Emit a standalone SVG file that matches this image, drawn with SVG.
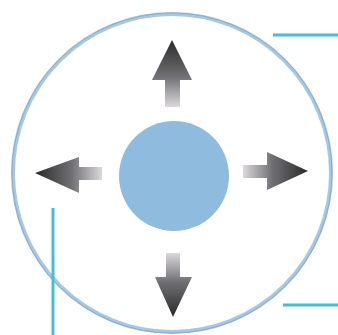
<svg xmlns="http://www.w3.org/2000/svg" width="338" height="335" viewBox="0 0 338 335">
<style>
.lead{stroke:#3fc0d8;stroke-width:3;fill:none}
.arrow{stroke:none}
</style>
<defs>
<linearGradient id="gUp" x1="0" y1="1" x2="0" y2="0">
<stop offset="0" stop-color="#dcd8dc"/><stop offset="0.45" stop-color="#707074"/><stop offset="1" stop-color="#2a2a2a"/>
</linearGradient>
<linearGradient id="gDown" x1="0" y1="0" x2="0" y2="1">
<stop offset="0" stop-color="#dcd8dc"/><stop offset="0.45" stop-color="#707074"/><stop offset="1" stop-color="#2a2a2a"/>
</linearGradient>
<linearGradient id="gLeft" x1="1" y1="0" x2="0" y2="0">
<stop offset="0" stop-color="#dcd8dc"/><stop offset="0.45" stop-color="#707074"/><stop offset="1" stop-color="#2a2a2a"/>
</linearGradient>
<linearGradient id="gRight" x1="0" y1="0" x2="1" y2="0">
<stop offset="0" stop-color="#dcd8dc"/><stop offset="0.45" stop-color="#707074"/><stop offset="1" stop-color="#2a2a2a"/>
</linearGradient>
</defs>
<rect width="338" height="335" fill="#fff"/>
<g id="outer">
<circle cx="172" cy="173" r="159" fill="#fff" stroke="#a8c8e2" stroke-width="4"/>
<circle cx="172" cy="173" r="160" fill="none" stroke="#86aed0" stroke-width="1"/>
</g>
<g id="center">
<circle cx="174" cy="176" r="55" fill="#8fbbde"/>
</g>
<g id="arrows">
<path id="up" class="arrow" fill="url(#gUp)" d="M172,40 L192,80 L180,80 L180,107 L165,107 L165,80 L152,80 Z"/>
<path id="down" class="arrow" fill="url(#gDown)" d="M173,317 L192,277 L180,277 L180,253 L166,253 L166,277 L155,277 Z"/>
<path id="left" class="arrow" fill="url(#gLeft)" d="M35,173 L79,157 L79,167 L102,167 L102,180 L79,180 L79,193 Z"/>
<path id="right" class="arrow" fill="url(#gRight)" d="M308,171 L267,152 L267,165 L243,165 L243,178 L267,178 L267,190 Z"/>
</g>
<g id="connectors">
<line class="lead" x1="273" y1="35" x2="338" y2="35"/>
<line class="lead" x1="283" y1="305" x2="338" y2="305"/>
<line class="lead" x1="53" y1="208" x2="53" y2="335"/>
</g>
</svg>
